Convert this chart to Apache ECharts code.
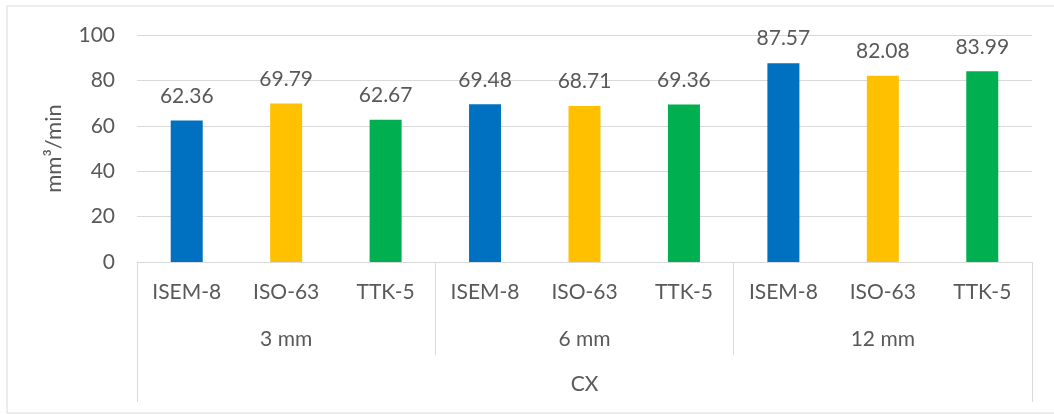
<!DOCTYPE html>
<html>
<head>
<meta charset="utf-8">
<script src="https://cdn.jsdelivr.net/npm/echarts@6/dist/echarts.min.js"></script>
<style>
  html, body { margin: 0; padding: 0; background: #fff; }
  #chart { width: 1054px; height: 414px; }
</style>
</head>
<body>
<div id="chart"></div>
<script>
// Removal rate per instrument, grouped by depth
const instruments = ['ISEM-8', 'ISO-63', 'TTK-5', 'ISEM-8', 'ISO-63', 'TTK-5', 'ISEM-8', 'ISO-63', 'TTK-5'];
const depths = ['3 mm', '6 mm', '12 mm'];
const groupName = ['CX'];
const rates = [62.36, 69.79, 62.67, 69.48, 68.71, 69.36, 87.57, 82.08, 83.99];
const instrumentColors = { 'ISEM-8': '#0070C0', 'ISO-63': '#FFC000', 'TTK-5': '#00B050' };
const yTicks = { min: 0, max: 100, step: 20 };

const FONT = 'Lato, "Open Sans", sans-serif';
const TEXT = '#595959';
const LINE = '#d9d9d9';
const FS = 21;

const chart = echarts.init(document.getElementById('chart'));

chart.setOption({
  animation: false,
  textStyle: { fontFamily: FONT, fontSize: FS },
  grid: { left: 137, right: 22, top: 35, bottom: 152, containLabel: false },
  graphic: [{
    type: 'rect',
    shape: { x: 7, y: 6, width: 1060, height: 407 },
    style: { fill: 'none', stroke: LINE, lineWidth: 1 },
    silent: true
  }],
  xAxis: [
    {
      type: 'category',
      data: instruments,
      position: 'bottom',
      axisLine: { show: true, lineStyle: { color: LINE, width: 1 } },
      axisTick: { show: false },
      axisLabel: { color: TEXT, fontSize: FS, margin: 20, interval: 0, fontFamily: FONT }
    },
    {
      type: 'category',
      data: depths,
      position: 'bottom',
      axisLine: { show: false },
      axisTick: { show: true, length: 93, lineStyle: { color: LINE, width: 1 } },
      axisLabel: { color: TEXT, fontSize: FS, margin: 67, interval: 0, fontFamily: FONT },
      splitLine: { show: false }
    },
    {
      type: 'category',
      data: groupName,
      position: 'bottom',
      axisLine: { show: false },
      axisTick: { show: true, length: 140, lineStyle: { color: LINE, width: 1 } },
      axisLabel: { color: TEXT, fontSize: FS, margin: 112, interval: 0, fontFamily: FONT },
      splitLine: { show: false }
    }
  ],
  yAxis: {
    type: 'value',
    min: yTicks.min,
    max: yTicks.max,
    interval: yTicks.step,
    name: 'mm³/min',
    nameLocation: 'middle',
    nameGap: 72,
    nameRotate: 90,
    nameMoveOverlap: false,
    nameTextStyle: { color: TEXT, fontSize: FS + 1, fontFamily: FONT },
    axisLine: { show: false },
    axisTick: { show: false },
    axisLabel: { color: TEXT, fontSize: FS, margin: 22, fontFamily: FONT },
    splitLine: { lineStyle: { color: LINE, width: 1 } }
  },
  series: [{
    type: 'bar',
    xAxisIndex: 0,
    barWidth: 32,
    data: rates.map((v, i) => ({
      value: v,
      itemStyle: { color: instrumentColors[instruments[i]] }
    })),
    label: {
      show: true,
      position: 'top',
      distance: 14,
      color: TEXT,
      fontSize: FS,
      fontFamily: FONT,
      formatter: p => p.value.toFixed(2)
    }
  }]
});
</script>
</body>
</html>
